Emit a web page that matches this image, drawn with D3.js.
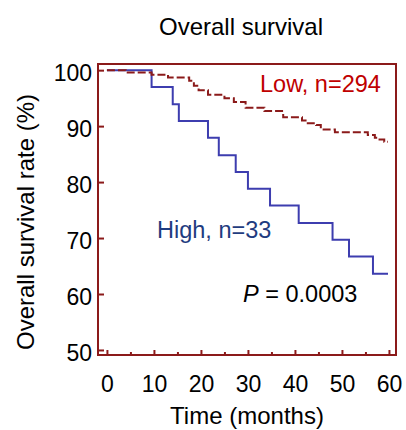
<!DOCTYPE html>
<html>
<head>
<meta charset="utf-8">
<script src="https://cdn.jsdelivr.net/npm/d3@7"></script>
<style>
  body { margin: 0; background: #fff; }
  text { font-family: "Liberation Sans", Arial, sans-serif; }
</style>
</head>
<body>
<div id="chart"></div>
<script>
// Data
const highMonths = [0, 9.5, 14, 15.3, 21.5, 23.8, 27.4, 30, 34.7, 40.8, 48, 51.5, 56.6, 59.8]
const highValues = [100, 97.0, 93.9, 90.9, 87.9, 84.8, 81.8, 78.8, 75.8, 72.7, 69.7, 66.7, 63.6, 63.6]
const lowMonths = [0, 4, 9.5, 13, 17.5, 18.5, 19.5, 21.5, 25, 27, 29.5, 33.5, 37.5, 41.5, 42.5, 44.5, 45.5, 48.5, 55.5, 57, 58, 59, 59.8]
const lowValues = [100, 99.6, 99.2, 98.7, 98.1, 97.2, 96.4, 95.6, 95.0, 94.3, 93.3, 92.7, 91.6, 91.0, 90.5, 90.2, 89.4, 88.9, 88.4, 87.9, 87.6, 87.2, 87.2]
const yTicks = [50, 60, 70, 80, 90, 100]
const xTicks = [0, 10, 20, 30, 40, 50, 60]
const xMinorTicks = [5, 15, 25, 35, 45, 55]

const high = highMonths.map((m, i) => ({ t: m, s: highValues[i] }))
const low = lowMonths.map((m, i) => ({ t: m, s: lowValues[i] }))

// Dimensions
const dims = { width: 406, height: 430, left: 98, right: 396, top: 64, bottom: 355 }
const frameColor = '#8b1a1a'

const svg = d3.select('#chart')
  .append('svg')
  .attr('width', dims.width)
  .attr('height', dims.height)

// Scales
const xScale = d3.scaleLinear().domain([-1.9, 61.5]).range([dims.left, dims.right])
const yScale = d3.scaleLinear().domain([49.1, 101.1]).range([dims.bottom, dims.top])

// Curves
const line = d3.line()
  .x(d => xScale(d.t))
  .y(d => yScale(d.s))
  .curve(d3.curveStepAfter)

svg.append('path')
  .datum(high)
  .attr('d', line)
  .attr('fill', 'none')
  .attr('stroke', '#3d3daf')
  .attr('stroke-width', 2)

svg.append('path')
  .datum(low)
  .attr('d', line)
  .attr('fill', 'none')
  .attr('stroke', frameColor)
  .attr('stroke-width', 2)
  .attr('stroke-dasharray', '8,3')

// Frame
svg.append('rect')
  .attr('x', dims.left)
  .attr('y', dims.top)
  .attr('width', dims.right - dims.left)
  .attr('height', dims.bottom - dims.top)
  .attr('fill', 'none')
  .attr('stroke', frameColor)
  .attr('stroke-width', 2)

// Axes
const yAxis = d3.axisLeft(yScale).tickValues(yTicks).tickSize(-6).tickPadding(6)
const yAxisGroup = svg.append('g')
  .attr('transform', `translate(${dims.left},0)`)
  .call(yAxis)

const xAxis = d3.axisBottom(xScale).tickValues(xTicks).tickSize(-5).tickPadding(21)
const xAxisGroup = svg.append('g')
  .attr('transform', `translate(0,${dims.bottom})`)
  .call(xAxis)

const xMinor = d3.axisBottom(xScale).tickValues(xMinorTicks).tickSize(-3).tickFormat('')
const xMinorGroup = svg.append('g')
  .attr('transform', `translate(0,${dims.bottom})`)
  .call(xMinor)

;[yAxisGroup, xAxisGroup, xMinorGroup].forEach(g => {
  g.select('.domain').remove()
  g.selectAll('line').attr('stroke', frameColor).attr('stroke-width', 2)
  g.selectAll('text')
    .attr('fill', '#000')
    .style('font-family', '"Liberation Sans", Arial, sans-serif')
    .style('font-size', '23px')
})
yAxisGroup.selectAll('text').attr('dy', '0.45em')

// Titles and labels
svg.append('text')
  .attr('x', 241)
  .attr('y', 35)
  .attr('text-anchor', 'middle')
  .style('font-size', '24px')
  .text('Overall survival')

svg.append('text')
  .attr('x', 247)
  .attr('y', 424)
  .attr('text-anchor', 'middle')
  .style('font-size', '24px')
  .text('Time (months)')

svg.append('text')
  .attr('transform', 'translate(34,222) rotate(-90)')
  .attr('text-anchor', 'middle')
  .style('font-size', '24px')
  .text('Overall survival rate (%)')

svg.append('text')
  .attr('x', 260)
  .attr('y', 92)
  .attr('fill', '#c00000')
  .style('font-size', '23.5px')
  .text('Low, n=294')

svg.append('text')
  .attr('x', 157)
  .attr('y', 238)
  .attr('fill', '#1f3c80')
  .style('font-size', '23.5px')
  .text('High, n=33')

const pText = svg.append('text')
  .attr('x', 243)
  .attr('y', 302)
  .attr('fill', '#000')
  .style('font-size', '23.5px')
pText.append('tspan').style('font-style', 'italic').text('P')
pText.append('tspan').text(' = 0.0003')
</script>
</body>
</html>
